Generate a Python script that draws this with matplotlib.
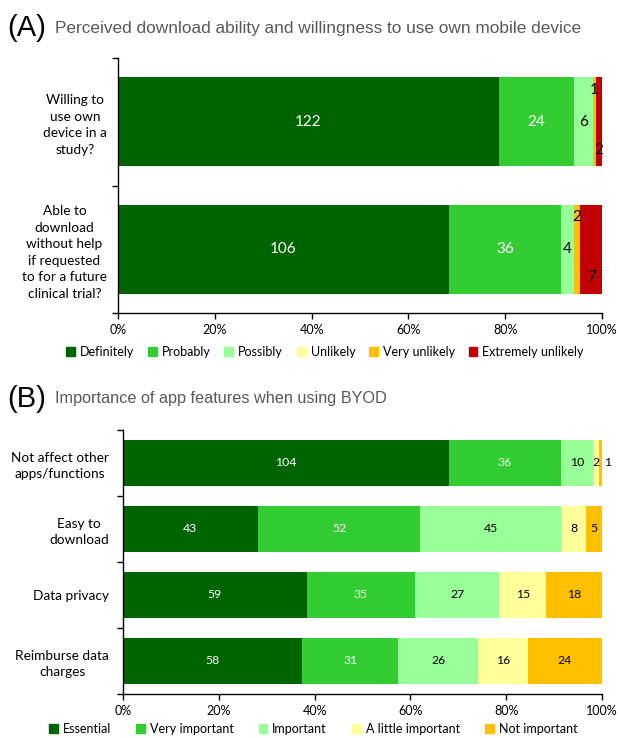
import numpy as np
import matplotlib
matplotlib.use("Agg")
import matplotlib.pyplot as plt
from matplotlib.patches import Patch

#Panel A data
a_questions = [
    "Willing to\nuse own\ndevice in a\nstudy?",
    "Able to\ndownload\nwithout help\nif requested\nto for a future\nclinical trial?",
]
a_levels = ["Definitely", "Probably", "Possibly", "Unlikely", "Very unlikely", "Extremely unlikely"]
a_definitely = [122, 106]
a_probably = [24, 36]
a_possibly = [6, 4]
a_unlikely = [0, 0]
a_very_unlikely = [1, 2]
a_extremely_unlikely = [2, 7]

#Panel B data
b_features = [
    "Not affect other\napps/functions",
    "Easy to\ndownload",
    "Data privacy",
    "Reimburse data\ncharges",
]
b_levels = ["Essential", "Very important", "Important", "A little important", "Not important"]
b_essential = [104, 43, 59, 58]
b_very_important = [36, 52, 35, 31]
b_important = [10, 45, 27, 26]
b_little_important = [2, 8, 15, 16]
b_not_important = [1, 5, 18, 24]

#Colours
a_colors = ["#006400", "#33CC33", "#99FF99", "#FFFF99", "#FFC000", "#C00000"]
b_colors = a_colors[:5]

label_font = "Lato"
title_font = "Liberation Sans"


def stacked(ax, labels, counts, colors, num_size, label_pad, special=None):
    counts = np.array(counts, dtype=float)  # shape (levels, bars)
    totals = counts.sum(axis=0)
    pct = counts / totals * 100
    y = np.arange(len(labels))
    left = np.zeros(len(labels))
    height = 0.7
    for i in range(counts.shape[0]):
        ax.barh(y, pct[i], left=left, color=colors[i], height=height, linewidth=0)
        for j in range(len(labels)):
            n = int(counts[i, j])
            if n == 0:
                continue
            xc = left[j] + pct[i, j] / 2
            yc = y[j]
            if special is not None:
                xc, yc = special(i, j, n, xc, yc, left[j] + pct[i, j])
            ax.text(xc, yc, str(n), ha="center", va="center",
                    color="white" if i < 2 else "black",
                    fontsize=num_size, family=label_font, clip_on=False)
        left += pct[i]

    ax.set_xlim(0, 100)
    ax.set_ylim(len(labels) - 0.5, -0.5)
    ax.set_xticks(range(0, 101, 20))
    ax.set_xticklabels([f"{v}%" for v in range(0, 101, 20)], family=label_font, fontsize=9)
    ax.set_yticks(y)
    ax.set_yticklabels(labels, family=label_font, fontsize=9.8, multialignment="center",
                       linespacing=1.45)
    ax.set_yticks(np.arange(len(labels) + 1) - 0.5, minor=True)
    ax.tick_params(axis="y", which="major", length=0, pad=label_pad)
    ax.tick_params(axis="y", which="minor", length=4, width=1, direction="out")
    ax.tick_params(axis="x", length=4, width=1, direction="out", pad=4)
    for s in ["top", "right"]:
        ax.spines[s].set_visible(False)
    for s in ["left", "bottom"]:
        ax.spines[s].set_linewidth(1)


fig = plt.figure(figsize=(6.18, 7.38), dpi=100)

### PANEL A
ax_a = fig.add_axes([118 / 618, 1 - 313 / 738, 484 / 618, 255 / 738])


def a_special(i, j, n, xc, yc, right):
    #Very unlikely label sits high, extremely unlikely sits low
    if i == 4:
        return xc, yc - 0.25
    if i == 5:
        return xc, yc + 0.22
    return xc, yc


stacked(ax_a, a_questions,
        [a_definitely, a_probably, a_possibly, a_unlikely, a_very_unlikely, a_extremely_unlikely],
        a_colors, 11, 8, a_special)

fig.text(7 / 618, 1 - 36 / 738, "(A)", fontsize=21, family=title_font, color="black")
fig.text(55 / 618, 1 - 33 / 738, "Perceived download ability and willingness to use own mobile device",
         fontsize=12.4, family=title_font, color="#595959")

fig.legend(handles=[Patch(color=c, label=l) for c, l in zip(a_colors, a_levels)],
           loc="center", bbox_to_anchor=(325 / 618, 1 - 352 / 738), ncol=6, frameon=False,
           prop={"family": label_font, "size": 9}, handlelength=0.7, handleheight=0.7,
           handletextpad=0.4, columnspacing=1.1)

### PANEL B
ax_b = fig.add_axes([123 / 618, 1 - 694 / 738, 479 / 618, 264 / 738])


def b_special(i, j, n, xc, yc, right):
    #Tiny last segment label goes just past the bar end
    if right >= 99.9 and n == 1:
        return right + 1.2, yc
    return xc, yc


stacked(ax_b, b_features,
        [b_essential, b_very_important, b_important, b_little_important, b_not_important],
        b_colors, 8.8, 10, b_special)

fig.text(7 / 618, 1 - 407 / 738, "(B)", fontsize=21, family=title_font, color="black")
fig.text(55 / 618, 1 - 403 / 738, "Importance of app features when using BYOD",
         fontsize=11.7, family=title_font, color="#595959")

fig.legend(handles=[Patch(color=c, label=l) for c, l in zip(b_colors, b_levels)],
           loc="center", bbox_to_anchor=(313 / 618, 1 - 729 / 738), ncol=5, frameon=False,
           prop={"family": label_font, "size": 9}, handlelength=0.7, handleheight=0.7,
           handletextpad=0.4, columnspacing=2.0)

fig.savefig("out.png", dpi=100)
